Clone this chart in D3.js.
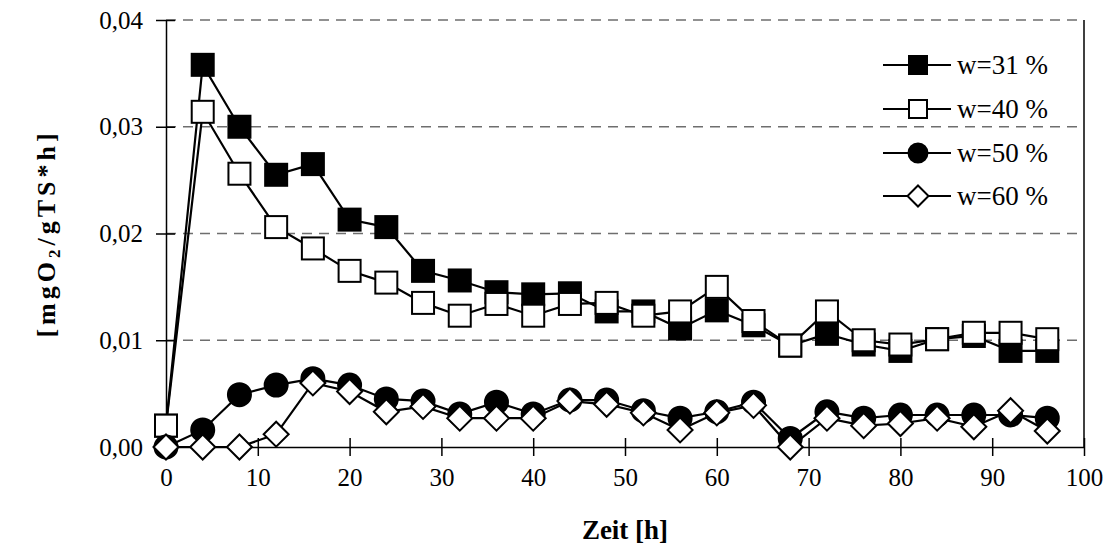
<!DOCTYPE html>
<html>
<head>
<meta charset="utf-8">
<script src="https://cdn.jsdelivr.net/npm/d3@7"></script>
<style>
  body { margin: 0; background: #fff; }
  svg text { font-family: "Liberation Serif", "Times New Roman", serif; fill: #000; }
</style>
</head>
<body>
<svg id="chart" width="1104" height="559"></svg>
<script>
// Sampling times [h]
const hours = [0,4,8,12,16,20,24,28,32,36,40,44,48,52,56,60,64,68,72,76,80,84,88,92,96];

// Specific oxygen uptake [mgO2/gTS*h] for each water content
const w31 = [0.0020,0.0358,0.0300,0.0255,0.0265,0.0213,0.0206,0.0165,0.0156,0.0145,0.0143,0.0144,0.0127,0.0127,0.0111,0.0128,0.0114,0.0095,0.0106,0.0096,0.0090,0.0101,0.0104,0.0090,0.0090];
const w40 = [0.0020,0.0314,0.0256,0.0206,0.0186,0.0165,0.0154,0.0135,0.0123,0.0134,0.0123,0.0134,0.0135,0.0123,0.0127,0.0150,0.0118,0.0095,0.0127,0.0100,0.0096,0.0101,0.0107,0.0107,0.0101];
const w50 = [0.0000,0.0016,0.0049,0.0058,0.0064,0.0058,0.0045,0.0043,0.0031,0.0042,0.0031,0.0044,0.0044,0.0034,0.0027,0.0033,0.0042,0.0008,0.0033,0.0027,0.0030,0.0030,0.0030,0.0030,0.0027];
const w60 = [0.0000,0.0000,0.0000,0.0012,0.0060,0.0052,0.0033,0.0038,0.0027,0.0027,0.0027,0.0043,0.0040,0.0032,0.0016,0.0032,0.0039,0.0000,0.0027,0.0020,0.0022,0.0027,0.0019,0.0034,0.0015];

const seriesNames = ["w=31 %", "w=40 %", "w=50 %", "w=60 %"];
const markerKinds = ["squareFilled", "squareOpen", "circleFilled", "diamondOpen"];

const xTicks = [0,10,20,30,40,50,60,70,80,90,100];
const yTicks = [0,0.01,0.02,0.03,0.04];
const yTickLabels = ["0,00","0,01","0,02","0,03","0,04"];

const xTitle = "Zeit [h]";

const svg = d3.select("#chart");
const plotLeft = 166, plotRight = 1084, plotTop = 20, plotBottom = 447;

const x = d3.scaleLinear().domain([0, 100]).range([plotLeft, plotRight]);
const y = d3.scaleLinear().domain([0, 0.04]).range([plotBottom, plotTop]);

// Dashed horizontal gridlines
svg.append("g").selectAll("line").data(yTicks.filter(v => v > 0)).join("line")
  .attr("x1", plotLeft).attr("x2", plotRight)
  .attr("y1", d => y(d)).attr("y2", d => y(d))
  .attr("stroke", "#6e6e6e").attr("stroke-width", 1.6)
  .attr("stroke-dasharray", "10,7");

// Right border of the plot area
svg.append("line").attr("x1", plotRight).attr("x2", plotRight).attr("y1", plotTop).attr("y2", plotBottom)
  .attr("stroke", "#000").attr("stroke-width", 1.5);

// Y axis with crossing tick marks
const yAxis = d3.axisLeft(y).tickValues(yTicks).tickFormat((d, i) => yTickLabels[i])
  .tickSizeInner(10).tickSizeOuter(0).tickPadding(13);
const gy = svg.append("g").attr("transform", `translate(${plotLeft},0)`).call(yAxis);
gy.select(".domain").attr("stroke-width", 1.5);
gy.selectAll(".tick line").attr("stroke-width", 1.5);
gy.selectAll(".tick").append("line").attr("x1", 0).attr("x2", 9).attr("stroke", "#000").attr("stroke-width", 1.5);
gy.selectAll(".tick text").style("font-size", "25px").attr("font-family", null);

// X axis with crossing tick marks
const xAxis = d3.axisBottom(x).tickValues(xTicks).tickFormat(d3.format("d"))
  .tickSizeInner(9).tickSizeOuter(0).tickPadding(12);
const gx = svg.append("g").attr("transform", `translate(0,${plotBottom})`).call(xAxis);
gx.select(".domain").attr("stroke-width", 1.5);
gx.selectAll(".tick line").attr("stroke-width", 1.5);
gx.selectAll(".tick").append("line").attr("y1", 0).attr("y2", -9).attr("stroke", "#000").attr("stroke-width", 1.5);
gx.selectAll(".tick text").style("font-size", "25px").attr("font-family", null);
svg.selectAll(".tick text").attr("fill", "#000");

// Marker drawing helper
function drawMarker(g, kind, size) {
  const h = size / 2;
  if (kind === "squareFilled" || kind === "squareOpen") {
    g.append("rect").attr("x", -h).attr("y", -h).attr("width", size).attr("height", size)
      .attr("fill", kind === "squareFilled" ? "#000" : "#fff")
      .attr("stroke", "#000").attr("stroke-width", 2);
  } else if (kind === "circleFilled") {
    g.append("circle").attr("r", h + 0.5).attr("fill", "#000").attr("stroke", "#000").attr("stroke-width", 2);
  } else {
    const d = h + 1.5;
    g.append("path").attr("d", `M0,${-d}L${d},0L0,${d}L${-d},0Z`)
      .attr("fill", "#fff").attr("stroke", "#000").attr("stroke-width", 2);
  }
}

const allSeries = [w31, w40, w50, w60];
const line = d3.line().x(d => x(d[0])).y(d => y(d[1]));

allSeries.forEach((vals, si) => {
  const pts = hours.map((h, i) => [h, vals[i]]);
  const g = svg.append("g");
  g.append("path").datum(pts).attr("d", line)
    .attr("fill", "none").attr("stroke", "#000").attr("stroke-width", 2.2);
  pts.forEach(p => {
    const m = g.append("g").attr("transform", `translate(${x(p[0])},${y(p[1])})`);
    drawMarker(m, markerKinds[si], 22);
  });
});

// Legend
const legend = svg.append("g");
const legendRows = [65, 109, 153, 196];
seriesNames.forEach((name, i) => {
  const row = legend.append("g").attr("transform", `translate(0,${legendRows[i]})`);
  row.append("line").attr("x1", 883).attr("x2", 951).attr("y1", 0).attr("y2", 0)
    .attr("stroke", "#000").attr("stroke-width", 2);
  const m = row.append("g").attr("transform", "translate(918,0)");
  drawMarker(m, markerKinds[i], 18);
  row.append("text").attr("x", 957).attr("y", 9).style("font-size", "27px").text(name);
});

// Axis titles
svg.append("text").attr("x", (plotLeft + plotRight) / 2).attr("y", 539)
  .attr("text-anchor", "middle").style("font-size", "27px").style("font-weight", "bold")
  .text(xTitle);

const yt = svg.append("text")
  .attr("transform", `translate(55,${(plotTop + plotBottom) / 2}) rotate(-90)`)
  .attr("text-anchor", "middle").style("font-size", "26px").style("font-weight", "bold")
  .style("letter-spacing", "4px");
yt.append("tspan").text("[mgO");
yt.append("tspan").attr("dy", 5).style("font-size", "17px").text("2");
yt.append("tspan").attr("dy", -5).text("/gTS*h]");
</script>
</body>
</html>
